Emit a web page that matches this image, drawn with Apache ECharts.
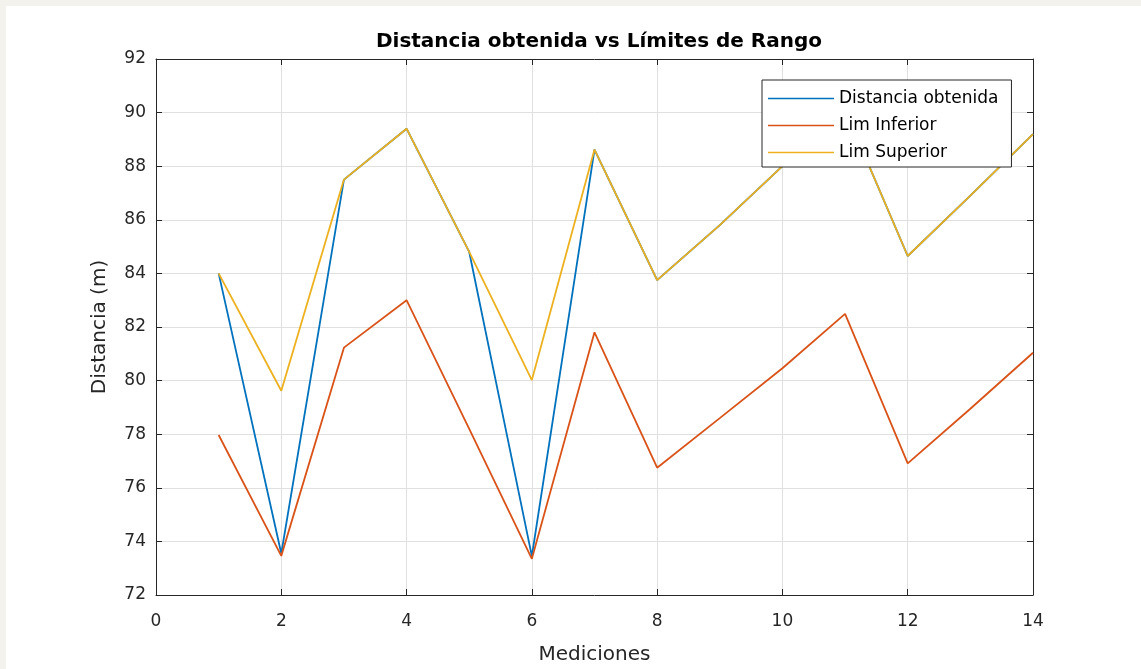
<!DOCTYPE html>
<html>
<head>
<meta charset="utf-8">
<script src="https://cdn.jsdelivr.net/npm/echarts@6/dist/echarts.min.js"></script>
<style>
  html, body { margin: 0; padding: 0; background: #f3f2ec; }
  #paper { position: absolute; left: 6px; top: 6px; width: 1135px; height: 663px; background: #fff; }
  #chart { position: absolute; left: 0; top: 0; width: 1141px; height: 669px; }
</style>
</head>
<body>
<div id="paper"></div>
<div id="chart"></div>
<script>
// mediciones 1..14
const mediciones = [1, 2, 3, 4, 5, 6, 7, 8, 9, 10, 11, 12, 13, 14]
const distanciaObtenida = [84.0, 73.55, 87.5, 89.4, 84.8, 73.45, 88.62, 83.75, 85.8, 88.0, 90.1, 84.65, 86.9, 89.2]
const limInferior = [77.97, 73.46, 81.23, 83.0, 78.2, 73.35, 81.8, 76.75, 78.6, 80.46, 82.49, 76.91, 78.95, 81.04]
const limSuperior = [84.0, 79.62, 87.5, 89.4, 84.8, 80.02, 88.62, 83.75, 85.8, 88.0, 90.1, 84.65, 86.9, 89.2]

const seriesNames = ['Distancia obtenida', 'Lim Inferior', 'Lim Superior']
const seriesColors = ['#0072BD', '#D95319', '#EDB120']

const toPairs = (ys) => mediciones.map((x, i) => [x, ys[i]])

const axisColor = '#262626'
const gridColor = '#e0e0e0'
const font = '"DejaVu Sans", "Liberation Sans", Arial, sans-serif'

const chart = echarts.init(document.getElementById('chart'))

const xBase = {
  type: 'value',
  min: 0,
  max: 14,
  interval: 2,
  axisLine: { show: true, onZero: false, lineStyle: { color: axisColor, width: 1 } },
  axisTick: { show: true, inside: true, length: 6, lineStyle: { color: axisColor } }
}
const yBase = {
  type: 'value',
  min: 72,
  max: 92,
  interval: 2,
  axisLine: { show: true, onZero: false, lineStyle: { color: axisColor, width: 1 } },
  axisTick: { show: true, inside: true, length: 6, lineStyle: { color: axisColor } }
}

chart.setOption({
  animation: false,
  textStyle: { fontFamily: font },
  title: {
    text: 'Distancia obtenida vs Límites de Rango',
    left: 594,
    textAlign: 'center',
    top: 27,
    textStyle: { fontFamily: font, fontSize: 20, fontWeight: 'bold', color: '#000' }
  },
  grid: { left: 156, top: 59, right: 108, bottom: 74, containLabel: false, outerBoundsMode: 'none' },
  legend: {
    data: seriesNames,
    orient: 'vertical',
    left: 762,
    top: 80,
    icon: 'path://M0,0 L66,0 L66,1.5 L0,1.5 Z',
    itemWidth: 66,
    itemHeight: 14,
    itemGap: 10,
    padding: [10, 13, 6, 6],
    backgroundColor: '#fff',
    borderColor: '#262626',
    borderWidth: 1,
    borderRadius: 0,
    textStyle: { fontFamily: font, fontSize: 17, lineHeight: 17, color: '#000' }
  },
  xAxis: [
    Object.assign({}, xBase, {
      position: 'bottom',
      name: 'Mediciones',
      nameLocation: 'middle',
      nameGap: 50,
      nameTextStyle: { fontFamily: font, fontSize: 20, color: axisColor },
      axisLabel: { show: true, margin: 18, fontSize: 17, color: axisColor, fontFamily: font },
      splitLine: { show: true, lineStyle: { color: gridColor, width: 1 } }
    }),
    Object.assign({}, xBase, {
      position: 'top',
      axisLabel: { show: false },
      splitLine: { show: false }
    })
  ],
  yAxis: [
    Object.assign({}, yBase, {
      position: 'left',
      name: 'Distancia (m)',
      nameLocation: 'middle',
      nameRotate: 90,
      nameGap: 46,
      nameTextStyle: { fontFamily: font, fontSize: 20, color: axisColor },
      axisLabel: { show: true, margin: 10, fontSize: 17, color: axisColor, fontFamily: font },
      splitLine: { show: true, lineStyle: { color: gridColor, width: 1 } }
    }),
    Object.assign({}, yBase, {
      position: 'right',
      axisLabel: { show: false },
      splitLine: { show: false }
    })
  ],
  series: [
    {
      name: seriesNames[0],
      type: 'line',
      data: toPairs(distanciaObtenida),
      symbol: 'none',
      color: seriesColors[0],
      lineStyle: { width: 1.8 }
    },
    {
      name: seriesNames[1],
      type: 'line',
      data: toPairs(limInferior),
      symbol: 'none',
      color: seriesColors[1],
      lineStyle: { width: 1.8 }
    },
    {
      name: seriesNames[2],
      type: 'line',
      data: toPairs(limSuperior),
      symbol: 'none',
      color: seriesColors[2],
      lineStyle: { width: 1.8 }
    }
  ]
})
</script>
</body>
</html>
